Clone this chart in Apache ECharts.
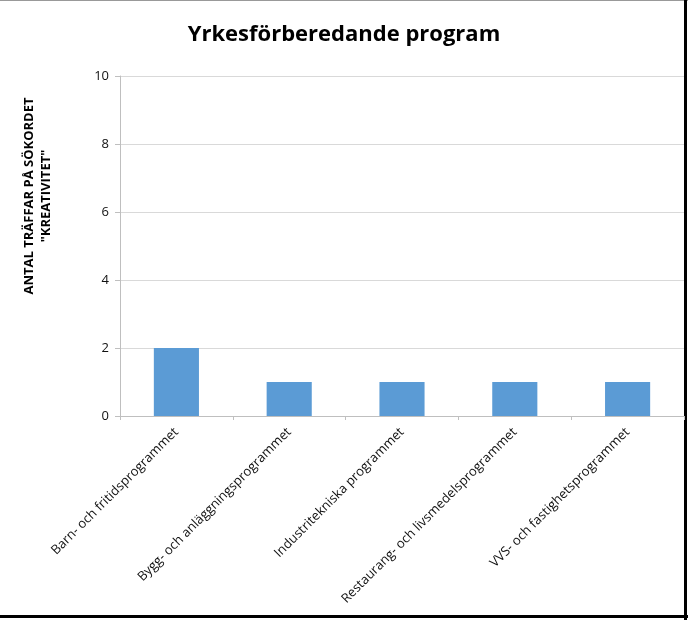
<!DOCTYPE html>
<html><head><meta charset="utf-8">
<script src="https://cdn.jsdelivr.net/npm/echarts@6/dist/echarts.min.js"></script>
<style>html,body{margin:0;padding:0;background:#fff}#c{width:688px;height:620px}</style>
</head><body><div id="c"></div>
<script>
const titleText = 'Yrkesförberedande program';
const yAxisTitle = 'ANTAL TRÄFFAR PÅ SÖKORDET\n"KREATIVITET"';
const categories = ['Barn- och fritidsprogrammet','Bygg- och anläggningsprogrammet','Industritekniska programmet','Restaurang- och livsmedelsprogrammet','VVS- och fastighetsprogrammet'];
const values = [2,1,1,1,1];
const yMin = 0, yMax = 10, yStep = 2;

const chart = echarts.init(document.getElementById('c'), null, {renderer:'canvas'});
const FONT = '"Open Sans", "Noto Sans", sans-serif';
chart.setOption({
  animation:false,
  backgroundColor:'#fff',
  title:{text:titleText,left:'center',top:19,textStyle:{fontFamily:FONT,fontSize:22,fontWeight:'bold',color:'#000'}},
  grid:{left:120,right:4,top:76,bottom:204},
  xAxis:{type:'category',data:categories,
    axisLine:{lineStyle:{color:'#BFBFBF',width:1}},
    axisTick:{show:true,length:4,lineStyle:{color:'#BFBFBF'}},
    axisLabel:{rotate:45,margin:14,interval:0,fontFamily:FONT,fontSize:13,color:'#111'}},
  yAxis:{type:'value',min:yMin,max:yMax,interval:yStep,
    axisLine:{show:true,lineStyle:{color:'#BFBFBF'}},
    axisTick:{show:true,length:5,lineStyle:{color:'#BFBFBF'}},
    axisLabel:{margin:11,fontFamily:FONT,fontSize:13,color:'#111'},
    splitLine:{lineStyle:{color:'#D9D9D9'}}},
  series:[{type:'bar',data:values,barWidth:'40%',itemStyle:{color:'#5B9BD5'}}],
  graphic:[
    {type:'text',x:38,y:196,rotation:Math.PI/2,
      style:{text:yAxisTitle,fontFamily:FONT,fontSize:13,fontWeight:'bold',fill:'#000',align:'center',verticalAlign:'middle',lineHeight:17}},
    {type:'line',shape:{x1:0,y1:0.5,x2:688,y2:0.5},style:{stroke:'#999',lineWidth:1}},
    {type:'line',shape:{x1:685.5,y1:0,x2:685.5,y2:620},style:{stroke:'#000',lineWidth:3}},
    {type:'line',shape:{x1:0,y1:616.5,x2:688,y2:616.5},style:{stroke:'#000',lineWidth:3}}
  ]
});
</script></body></html>
